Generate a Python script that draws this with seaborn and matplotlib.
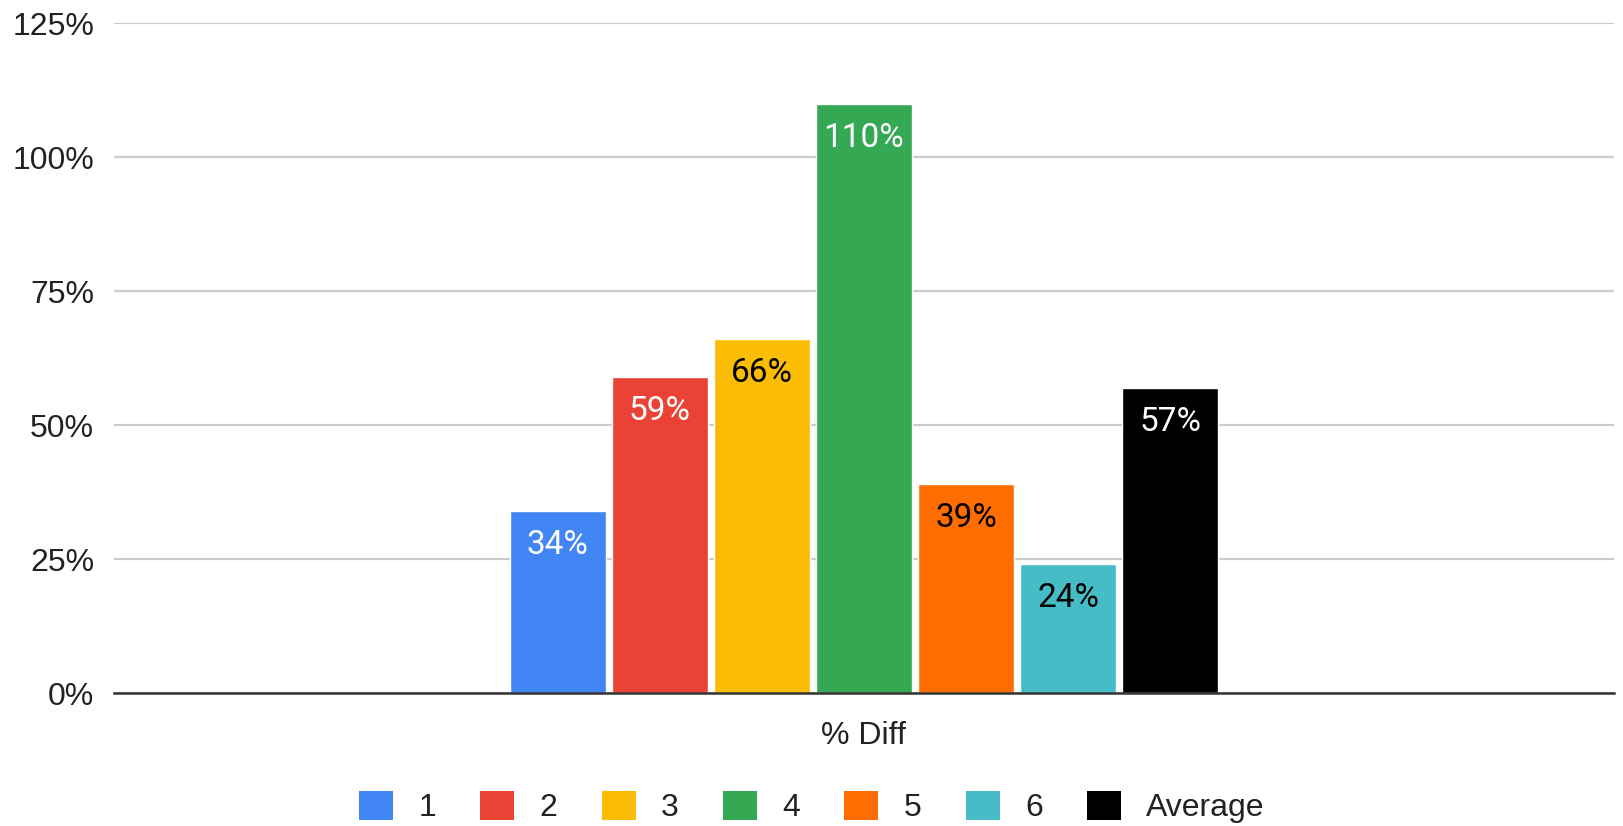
import matplotlib
matplotlib.use("Agg")
import matplotlib.pyplot as plt
from matplotlib.patches import Patch
import seaborn as sns
import pandas as pd

# Chart data
category = "% Diff"
series = ["1", "2", "3", "4", "5", "6", "Average"]
values = [34, 59, 66, 110, 39, 24, 57]
colors = ["#4285F4", "#EA4335", "#FBBC04", "#34A853", "#FF6D01", "#46BDC6", "#000000"]
label_colors = ["white", "white", "black", "white", "black", "black", "white"]
y_ticks = [0, 25, 50, 75, 100, 125]
y_tick_labels = ["0%", "25%", "50%", "75%", "100%", "125%"]

df = pd.DataFrame({"cat": [category] * len(series), "series": series, "value": values})

sns.set_theme(style="white")
plt.rcParams["font.family"] = ["Liberation Sans", "DejaVu Sans"]

fig = plt.figure(figsize=(16.24, 8.26), dpi=100)
ax = fig.add_axes([0.070, 0.161, 0.924, 0.811])

sns.barplot(data=df, x="cat", y="value", hue="series", hue_order=series,
            palette=dict(zip(series, colors)), width=0.476, gap=0.065,
            saturation=1, legend=False, ax=ax)

ax.set_xlim(-0.5, 0.5)
ax.set_ylim(0, 125)
ax.set_yticks(y_ticks)
ax.set_yticklabels(y_tick_labels, fontsize=23, color="#222222")
ax.tick_params(axis="y", length=0, pad=14)
ax.set_xticks([])
ax.set_ylabel("")
ax.set_xlabel(category, fontsize=23, color="#222222", labelpad=20)

ax.grid(axis="y", color="#cccccc", linewidth=1.6)
ax.set_axisbelow(True)
for side in ["top", "right", "left"]:
    ax.spines[side].set_visible(False)
ax.spines["bottom"].set_color("#333333")
ax.spines["bottom"].set_linewidth(1.8)
ax.spines["bottom"].set_zorder(5)

# Value labels inside the top of each bar
for container, val, tc in zip(ax.containers, values, label_colors):
    bar = container.patches[0]
    cx = bar.get_x() + bar.get_width() / 2
    ax.annotate(f"{val}%", xy=(cx, val), xytext=(0, -24.5), textcoords="offset points",
                ha="center", va="center", fontsize=24, color=tc,
                family=["Roboto", "DejaVu Sans"])

handles = [Patch(facecolor=c, edgecolor="none") for c in colors]
fig.legend(handles, series, loc="center", bbox_to_anchor=(0.5, 0.023), ncol=len(series),
           frameon=False, fontsize=23, handlelength=1.06, handleheight=1.06,
           handletextpad=0.8, columnspacing=1.38, labelcolor="#222222")

fig.savefig("out.png", dpi=100, facecolor="white")
